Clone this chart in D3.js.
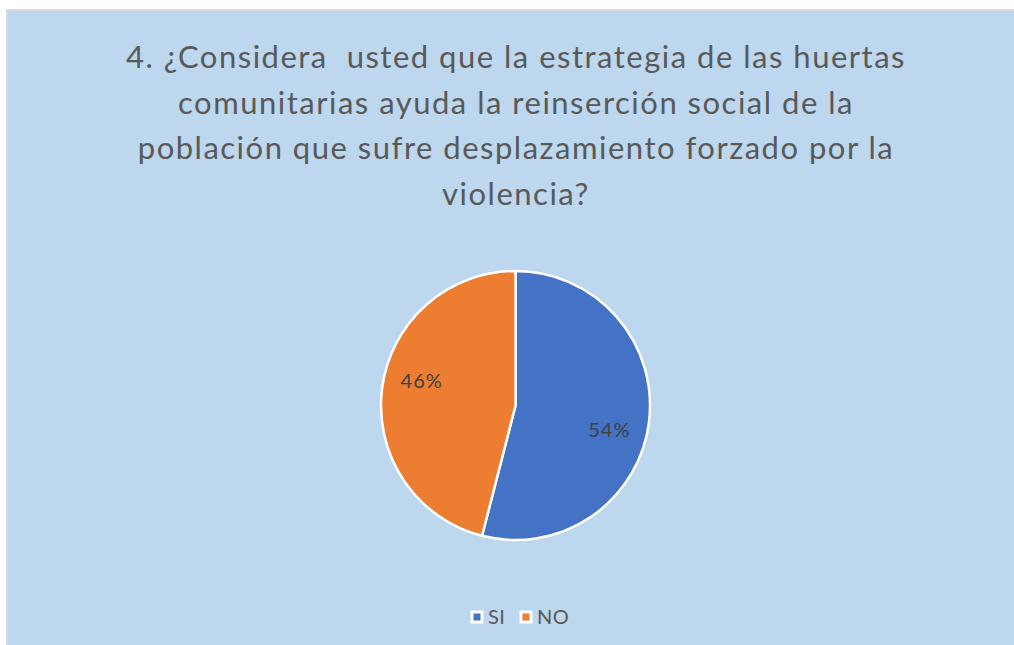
<!DOCTYPE html>
<html>
<head>
<meta charset="utf-8">
<script src="https://cdn.jsdelivr.net/npm/d3@7"></script>
<style>
  html, body { margin: 0; padding: 0; background: #fff; }
  svg { display: block; }
</style>
</head>
<body>
<svg id="chart" width="1014" height="645"></svg>
<script>
const categories = ['SI', 'NO'];
const values = [54, 46];
const colors = ['#4472C4', '#ED7D31'];
const titleLines = [
  '4. ¿Considera  usted que la estrategia de las huertas',
  'comunitarias ayuda la reinserción social de la',
  'población que sufre desplazamiento forzado por la',
  'violencia?'
];

const width = 1014, height = 645;
const font = 'Lato, "Open Sans", sans-serif';
const svg = d3.select('#chart');

// chart area frame
svg.append('rect')
  .attr('x', 6).attr('y', 9)
  .attr('width', width - 6).attr('height', height - 9)
  .attr('fill', '#d9d9d9');
svg.append('rect')
  .attr('x', 8).attr('y', 11)
  .attr('width', width - 8).attr('height', height - 11)
  .attr('fill', '#BDD7EE');

// title
svg.append('g')
  .selectAll('text')
  .data(titleLines)
  .join('text')
  .attr('x', 516)
  .attr('y', (d, i) => 68 + i * 45.5)
  .attr('text-anchor', 'middle')
  .attr('font-family', font)
  .attr('font-size', 31)
  .attr('letter-spacing', 1.5)
  .attr('fill', '#595959')
  .style('white-space', 'pre')
  .text(d => d);

// pie
const cx = 515.5, cy = 405.5, radius = 134.5;
const pie = d3.pie().sort(null).value(d => d.value);
const arcs = pie(categories.map((c, i) => ({ name: c, value: values[i] })));
const arc = d3.arc().innerRadius(0).outerRadius(radius);

// label placement: a bit past the slice middle, like the best-fit spot
const labelR = 97, labelShift = 7.5 * Math.PI / 180;
function labelPos(d) {
  const a = (d.startAngle + d.endAngle) / 2 + labelShift;
  return [Math.sin(a) * labelR, -Math.cos(a) * labelR];
}

const g = svg.append('g').attr('transform', `translate(${cx},${cy})`);
g.selectAll('path')
  .data(arcs)
  .join('path')
  .attr('d', arc)
  .attr('fill', (d, i) => colors[i])
  .attr('stroke', '#fff')
  .attr('stroke-width', 2.5);

const total = d3.sum(values);
g.selectAll('text')
  .data(arcs)
  .join('text')
  .attr('transform', d => `translate(${labelPos(d)})`)
  .attr('text-anchor', 'middle')
  .attr('dy', '0.35em')
  .attr('font-family', font)
  .attr('font-size', 20)
  .attr('letter-spacing', 1)
  .attr('fill', '#404040')
  .text(d => d3.format('.0%')(d.data.value / total));

// legend
const legend = svg.append('g').attr('transform', 'translate(472,617)');
const item = legend.selectAll('g')
  .data(categories)
  .join('g')
  .attr('transform', (d, i) => `translate(${i * 49},0)`);
item.append('rect')
  .attr('x', 0).attr('y', -5)
  .attr('width', 10).attr('height', 10)
  .attr('fill', (d, i) => colors[i])
  .attr('stroke', '#fff')
  .attr('stroke-width', 3);
item.append('text')
  .attr('x', 16)
  .attr('dy', '0.35em')
  .attr('font-family', font)
  .attr('font-size', 20)
  .attr('letter-spacing', 0.5)
  .attr('fill', '#595959')
  .text(d => d);
</script>
</body>
</html>
